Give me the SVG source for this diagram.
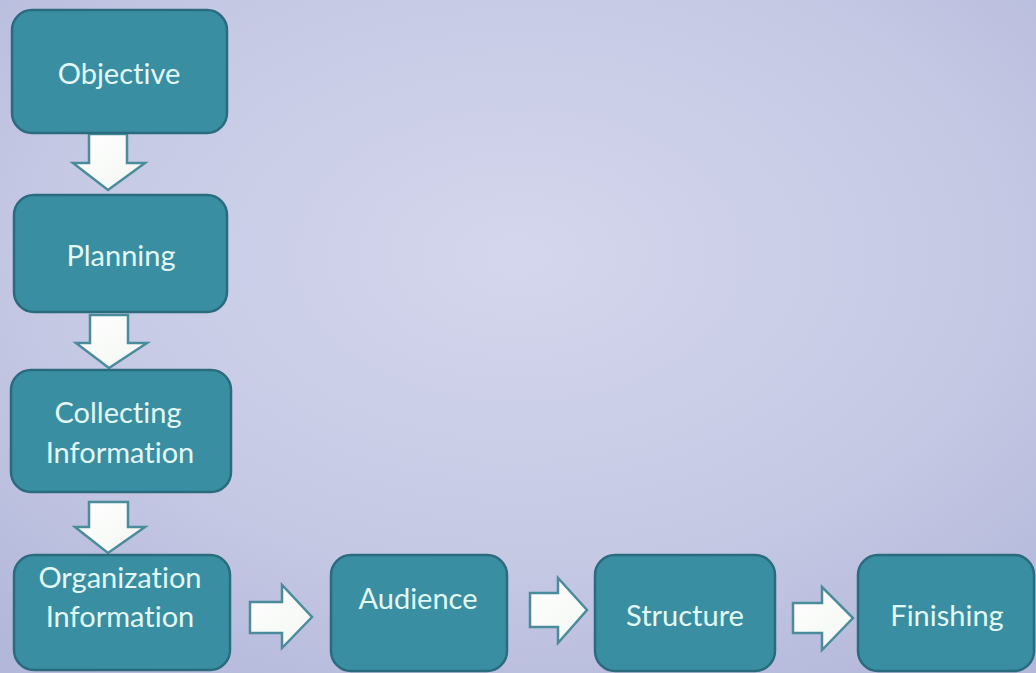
<svg xmlns="http://www.w3.org/2000/svg" width="1036" height="673" viewBox="0 0 1036 673">
<defs>
<radialGradient id="bg" cx="0.5" cy="0.38" r="0.75">
<stop offset="0" stop-color="#d3d6ec"/>
<stop offset="0.6" stop-color="#c6c9e4"/>
<stop offset="1" stop-color="#b3b7da"/>
</radialGradient>
<linearGradient id="arrowFill" x1="0" y1="0" x2="1" y2="1">
<stop offset="0" stop-color="#ffffff"/>
<stop offset="1" stop-color="#f2f6f2"/>
</linearGradient>
</defs>
<style>
.box{fill:#3a8ea2;stroke:#2b6b7e;stroke-width:2.5}
.lbl{font-family:Lato,"Open Sans","DejaVu Sans",sans-serif;font-size:29px;fill:#e2f8f6;text-anchor:middle;font-variant-ligatures:none}
.arr{fill:url(#arrowFill);stroke:#4b8c9c;stroke-width:2.5;stroke-linejoin:miter}
</style>
<rect width="1036" height="673" fill="url(#bg)"/>
<g id="connectors">
<polygon class="arr" points="89,134 127,134 127,163 145,163 108,190 73,163 89,163"/>
<polygon class="arr" points="90,315 128,315 128,343 147,343 109,368 76,343 90,343"/>
<polygon class="arr" points="89,502 128,502 128,527 145,527 108,553 75,527 89,527"/>
<polygon class="arr" points="250,602 282,602 282,585 312,617 282,648 282,633 250,633"/>
<polygon class="arr" points="530,593 558,593 558,578 587,610 558,643 558,627 530,627"/>
<polygon class="arr" points="793,603 822,603 822,587 853,618 822,650 822,633 793,633"/>
</g>
<g id="objective"><rect class="box" x="12" y="10" width="215" height="123" rx="20"/><text class="lbl" x="119" y="84">Objective</text></g>
<g id="planning"><rect class="box" x="14" y="195" width="213" height="117" rx="20"/><text class="lbl" x="121" y="266">Planning</text></g>
<g id="collecting"><rect class="box" x="11" y="370" width="220" height="122" rx="20"/><text class="lbl" x="118" y="423">Collecting</text><text class="lbl" x="120" y="463">Information</text></g>
<g id="organization"><rect class="box" x="14" y="555" width="216" height="115" rx="20"/><text class="lbl" x="120" y="588">Organization</text><text class="lbl" x="120" y="627">Information</text></g>
<g id="audience"><rect class="box" x="331" y="555" width="176" height="116" rx="20"/><text class="lbl" x="418" y="609">Audience</text></g>
<g id="structure"><rect class="box" x="595" y="555" width="180" height="116" rx="20"/><text class="lbl" x="685" y="626">Structure</text></g>
<g id="finishing"><rect class="box" x="858" y="555" width="176" height="116" rx="20"/><text class="lbl" x="947" y="626">Finishing</text></g>
</svg>
